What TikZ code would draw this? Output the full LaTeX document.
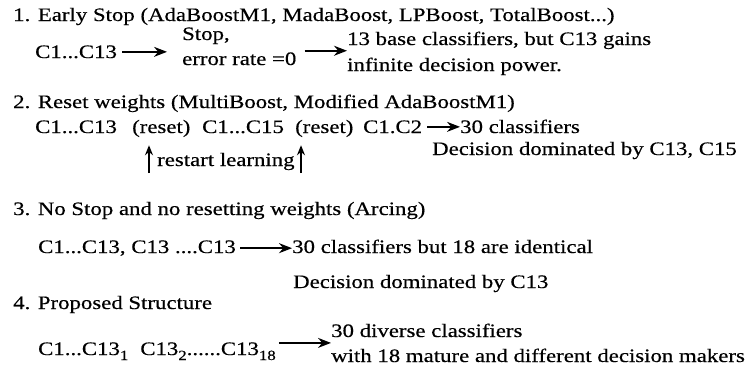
\documentclass[tikz,border=0pt]{standalone}
\usepackage{fontspec}
\setmainfont[FakeStretch=1.2,FakeBold=0.4]{Liberation Serif}
\usetikzlibrary{arrows.meta,calc}
\begin{document}
\begin{tikzpicture}[x=1pt,y=-1pt,
  txt/.style={anchor=base west,inner sep=0pt,font=\fontsize{19}{22}\selectfont},
  arr/.style={-{Stealth[length=13pt,width=10pt]},line width=1.6pt},
  uparr/.style={-{Stealth[length=10pt,width=8pt]},line width=1.4pt}]
\useasboundingbox[fill=white] (0,0) rectangle (748,373);
% section 1
\node[txt] (t1) at (13,21) {1. Early Stop (AdaBoostM1, MadaBoost, LPBoost, TotalBoost...)};
\node[txt] (c1) at (35,58) {C1...C13};
\node[txt] (stop) at (182,40) {Stop,};
\node[txt] (err) at (182,65) {error rate =0};
\node[txt] (r1a) at (347,45) {13 base classifiers, but C13 gains};
\node[txt] (r1b) at (347,71) {infinite decision power.};
\draw[arr] ([xshift=5pt]c1.east) -- ([xshift=-15pt]c1.east -| stop.west);
\coordinate (m1) at ($(r1a.west)!0.4!(r1b.west)$);
\draw[arr] (m1 -| err.east) ++(8,0) -- (m1);
% section 2
\node[txt] (t2) at (13,108) {2. Reset weights (MultiBoost, Modified AdaBoostM1)};
\node[txt] (c2a) at (35,133) {C1...C13};
\node[txt] (rs1) at (132,133) {(reset)};
\node[txt] (c2b) at (202,133) {C1...C15};
\node[txt] (rs2) at (295,133) {(reset)};
\node[txt] (c2c) at (363,133) {C1.C2};
\node[txt] (r2) at (460,133) {30 classifiers};
\node[txt] (d2) at (432,155) {Decision dominated by C13, C15};
\node[txt] (rl) at (157,166) {restart learning};
\draw[arr] ([xshift=5pt]c2c.east) -- (c2c.east -| r2.west);
\coordinate (u1) at (149,173);
\coordinate (u2) at (301,173);
\draw[uparr] (u1) -- ([yshift=-8pt]u1 |- rs1.south);
\draw[uparr] (u2) -- ([yshift=-8pt]u2 |- rs2.south);
% section 3
\node[txt] (t3) at (13,215) {3. No Stop and no resetting weights (Arcing)};
\node[txt] (c3) at (38,253) {C1...C13, C13 ....C13};
\node[txt] (r3) at (292,253) {30 classifiers but 18 are identical};
\node[txt] (d3) at (293,288) {Decision dominated by C13};
\draw[arr] ([xshift=4pt]c3.east) -- (c3.east -| r3.west);
% section 4
\node[txt] (t4) at (13,309) {4. Proposed Structure};
\node[txt] (c4) at (38,355) {C1...C13\raisebox{-5pt}{\fontsize{14}{14}\selectfont 1}\hspace{12pt}C13\raisebox{-5pt}{\fontsize{14}{14}\selectfont 2}......C13\raisebox{-5pt}{\fontsize{14}{14}\selectfont 18}};
\node[txt] (r4a) at (331,337) {30 diverse classifiers};
\node[txt] (r4b) at (331,362) {with 18 mature and different decision makers};
\coordinate (m4) at ($(r4a.west)!0.5!(r4b.west)$);
\draw[arr] (m4 -| c4.east) ++(3,0) -- (m4);
\end{tikzpicture}
\end{document}
